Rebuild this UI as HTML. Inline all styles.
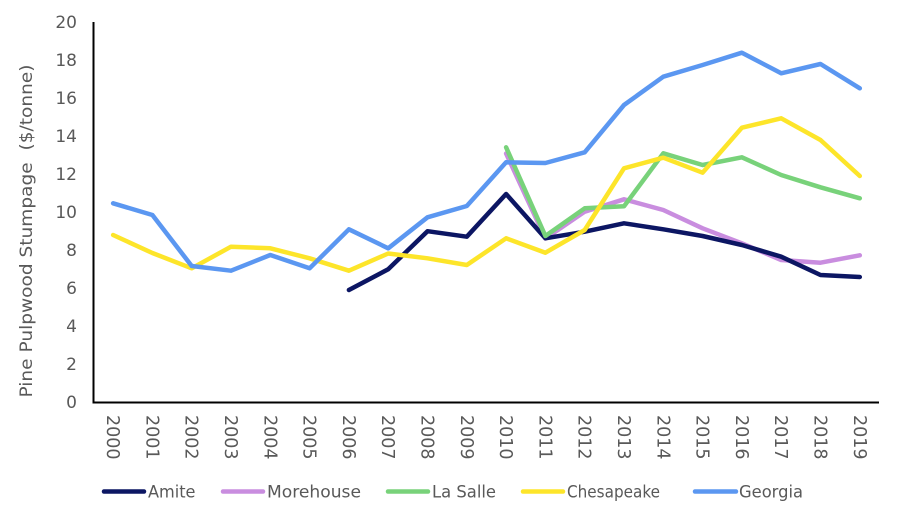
<!DOCTYPE html>
<html>
<head>
<meta charset="utf-8">
<style>
  html,body{margin:0;padding:0;background:#fff;}
  svg{display:block;}
  text{font-family:"DejaVu Sans","Liberation Sans",sans-serif;fill:#595959;}
</style>
</head>
<body>
<svg width="902" height="520" viewBox="0 0 902 520" xmlns="http://www.w3.org/2000/svg">
  <rect width="902" height="520" fill="#fff"/>

  <!-- Y tick labels -->
  <g font-size="17" text-anchor="end">
    <text x="77" y="28.2">20</text>
    <text x="77" y="66.2">18</text>
    <text x="77" y="104.2">16</text>
    <text x="77" y="142.2">14</text>
    <text x="77" y="180.2">12</text>
    <text x="77" y="218.2">10</text>
    <text x="77" y="256.2">8</text>
    <text x="77" y="294.2">6</text>
    <text x="77" y="332.2">4</text>
    <text x="77" y="370.2">2</text>
    <text x="77" y="408.2">0</text>
  </g>

  <!-- Y axis title -->
  <text transform="translate(32,231) rotate(-90)" font-size="17" text-anchor="middle" textLength="333" lengthAdjust="spacingAndGlyphs">Pine Pulpwood Stumpage&#160; ($/tonne)</text>

  <!-- X tick labels (rotated) -->
  <g font-size="17.5">
    <text transform="translate(113.1,415) rotate(90)" y="6">2000</text>
    <text transform="translate(152.4,415) rotate(90)" y="6">2001</text>
    <text transform="translate(191.7,415) rotate(90)" y="6">2002</text>
    <text transform="translate(231.0,415) rotate(90)" y="6">2003</text>
    <text transform="translate(270.3,415) rotate(90)" y="6">2004</text>
    <text transform="translate(309.6,415) rotate(90)" y="6">2005</text>
    <text transform="translate(348.9,415) rotate(90)" y="6">2006</text>
    <text transform="translate(388.2,415) rotate(90)" y="6">2007</text>
    <text transform="translate(427.5,415) rotate(90)" y="6">2008</text>
    <text transform="translate(466.8,415) rotate(90)" y="6">2009</text>
    <text transform="translate(506.1,415) rotate(90)" y="6">2010</text>
    <text transform="translate(545.4,415) rotate(90)" y="6">2011</text>
    <text transform="translate(584.7,415) rotate(90)" y="6">2012</text>
    <text transform="translate(624.0,415) rotate(90)" y="6">2013</text>
    <text transform="translate(663.3,415) rotate(90)" y="6">2014</text>
    <text transform="translate(702.6,415) rotate(90)" y="6">2015</text>
    <text transform="translate(741.9,415) rotate(90)" y="6">2016</text>
    <text transform="translate(781.2,415) rotate(90)" y="6">2017</text>
    <text transform="translate(820.5,415) rotate(90)" y="6">2018</text>
    <text transform="translate(859.8,415) rotate(90)" y="6">2019</text>
  </g>

  <!-- Series -->
  <g fill="none" stroke-width="4.5" stroke-linejoin="round" stroke-linecap="round">
    <!-- Morehouse -->
    <polyline stroke="#c98ddf" points="506.1,153.5 545.4,238.5 584.7,211.7 624.0,199.3 663.3,210 702.6,228.3 741.9,243.3 781.2,260 820.5,262.7 859.8,255.3"/>
    <!-- Amite -->
    <polyline stroke="#0c1663" points="348.9,290 388.2,269.3 427.5,231.2 466.8,236.7 506.1,194 545.4,238.3 584.7,231.7 624.0,223.3 663.3,229.3 702.6,236 741.9,245 781.2,256.7 820.5,275 859.8,277"/>
    <!-- La Salle -->
    <polyline stroke="#78d27a" points="506.1,147.3 545.4,236 584.7,208.3 624.0,206.3 663.3,153.3 702.6,165 741.9,157.3 781.2,175 820.5,187.3 859.8,198.3"/>
    <!-- Chesapeake -->
    <polyline stroke="#fde52a" points="113.1,235 152.4,253 191.7,268.3 231.0,246.7 270.3,248.3 309.6,258.3 348.9,270.7 388.2,253.5 427.5,258.3 466.8,265 506.1,238.3 545.4,252.7 584.7,230 624.0,168.3 663.3,157.7 702.6,172.7 741.9,127.7 781.2,118.3 820.5,140 859.8,176"/>
    <!-- Georgia -->
    <polyline stroke="#5b97f1" points="113.1,203.3 152.4,215 191.7,266 231.0,270.7 270.3,255 309.6,268.3 348.9,229.3 388.2,248.3 427.5,217.3 466.8,206 506.1,162.3 545.4,163 584.7,152.3 624.0,105 663.3,76.7 702.6,65 741.9,52.7 781.2,73.3 820.5,64 859.8,88.3"/>
  </g>

  <!-- Axes -->
  <line x1="93.5" y1="22" x2="93.5" y2="403" stroke="#000" stroke-width="2"/>
  <line x1="92.5" y1="402.5" x2="879" y2="402.5" stroke="#000" stroke-width="2"/>

  <!-- Legend -->
  <g stroke-width="4.5" stroke-linecap="round">
    <line x1="104" y1="491.5" x2="144" y2="491.5" stroke="#0c1663"/>
    <line x1="223" y1="491.5" x2="263" y2="491.5" stroke="#c98ddf"/>
    <line x1="388" y1="491.5" x2="428" y2="491.5" stroke="#78d27a"/>
    <line x1="523" y1="491.5" x2="563" y2="491.5" stroke="#fde52a"/>
    <line x1="695" y1="491.5" x2="736" y2="491.5" stroke="#5b97f1"/>
  </g>
  <g font-size="16.5">
    <text x="148" y="497.5" textLength="47.5" lengthAdjust="spacingAndGlyphs">Amite</text>
    <text x="267" y="497.5" textLength="94" lengthAdjust="spacingAndGlyphs">Morehouse</text>
    <text x="432" y="497.5" textLength="64" lengthAdjust="spacingAndGlyphs">La Salle</text>
    <text x="567" y="497.5" textLength="93" lengthAdjust="spacingAndGlyphs">Chesapeake</text>
    <text x="739" y="497.5" textLength="64" lengthAdjust="spacingAndGlyphs">Georgia</text>
  </g>
</svg>
</body>
</html>
